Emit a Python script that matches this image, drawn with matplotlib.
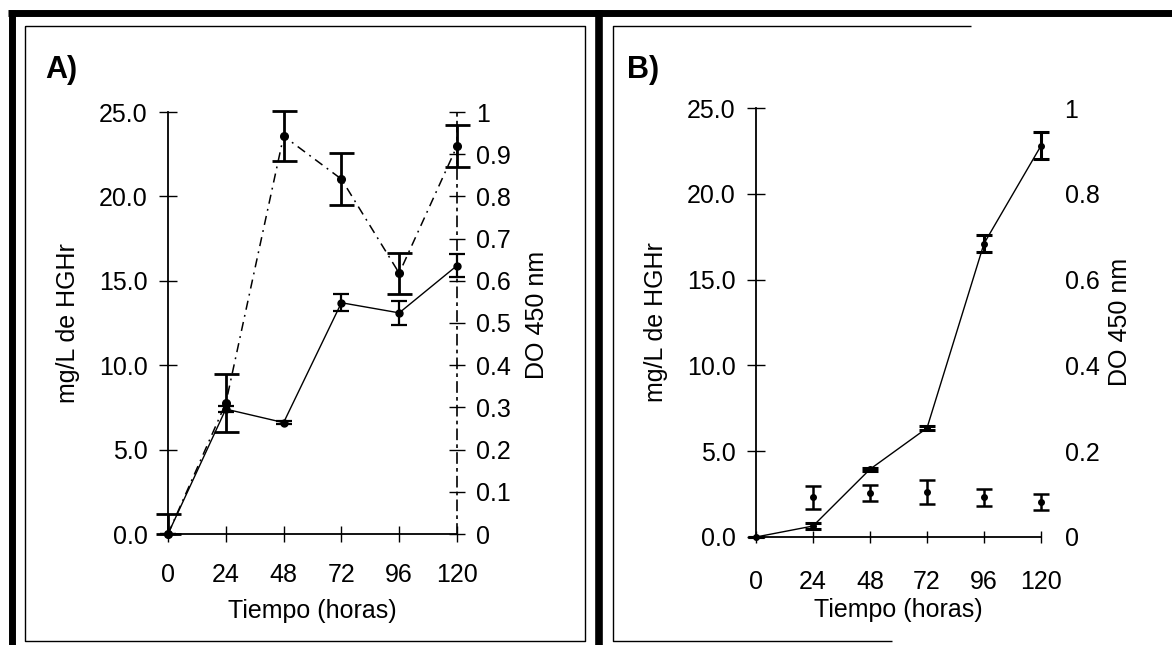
import matplotlib
matplotlib.use("Agg")
import matplotlib.pyplot as plt
from matplotlib.lines import Line2D

plt.rcParams['font.family'] = ['Liberation Sans', 'DejaVu Sans']

# Tiempo (horas)
horas = [0, 24, 48, 72, 96, 120]
x_ticks = [0, 24, 48, 72, 96, 120]

# Panel A
a_mg = [0.0, 7.4, 6.6, 13.7, 13.1, 15.9]          # mg/L de HGHr (linea continua)
a_mg_err = [0.0, 0.2, 0.1, 0.5, 0.7, 0.7]
a_do = [0.0, 0.31, 0.943, 0.841, 0.618, 0.919]    # DO 450 nm (linea punto-raya)
a_do_err = [0.047, 0.068, 0.06, 0.062, 0.049, 0.05]

# Panel B
b_mg = [0.0, 0.64, 3.95, 6.35, 17.1, 22.8]
b_mg_err = [0.0, 0.15, 0.1, 0.1, 0.47, 0.8]
b_do_horas = [24, 48, 72, 96, 120]
b_do = [0.093, 0.102, 0.105, 0.093, 0.082]
b_do_err = [0.027, 0.019, 0.029, 0.02, 0.019]

left_ticks = [0, 5, 10, 15, 20, 25]
a_right_ticks = [0, 0.1, 0.2, 0.3, 0.4, 0.5, 0.6, 0.7, 0.8, 0.9, 1]
b_right_ticks = [0, 0.2, 0.4, 0.6, 0.8, 1]

W, H = 1172, 645
fig = plt.figure(figsize=(W / 100, H / 100), dpi=100)


def fx(px):
    return px / W


def fy(py):
    return 1 - py / H


def fig_line(xs, ys, lw):
    fig.add_artist(Line2D([fx(v) for v in xs], [fy(v) for v in ys],
                          transform=fig.transFigure, color='k', lw=lw,
                          solid_capstyle='butt'))


def clipped_err(vals, errs):
    # error bars do not go below zero
    return [[min(v, e) for v, e in zip(vals, errs)], errs]


# scanned page frames
fig_line([8, W], [13, 13], 5)
fig_line([11.5, 11.5], [10, H], 5)
fig_line([599, 599], [10, H], 5.5)
fig_line([25, 585, 585, 25, 25], [26, 26, 641, 641, 26], 1.0)
fig_line([971, 613, 613, 892], [26, 26, 641, 641], 1.0)

FS = 18
dashdot = (0, (6, 3.5, 1.2, 3.5))


def style_axes(ax, ax2, right_ticks, xpad):
    ax.set_xlim(0, 120)
    ax.set_ylim(0, 25)
    ax2.set_ylim(0, 1)
    ax.set_xticks(x_ticks)
    ax.set_yticks(left_ticks)
    ax.set_yticklabels(['%.1f' % v for v in left_ticks])
    ax2.set_yticks(right_ticks)
    ax2.set_yticklabels(['%g' % v for v in right_ticks])
    ax.tick_params(axis='y', direction='inout', length=13, width=1.0,
                   labelsize=FS, pad=8)
    ax.tick_params(axis='x', direction='inout', length=12, width=1.0,
                   labelsize=FS, pad=xpad)
    ax2.tick_params(axis='y', direction='inout', length=11, width=1.0,
                    labelsize=FS, pad=8)
    for s in ['top', 'right']:
        ax.spines[s].set_visible(False)
    for s in ['top', 'left', 'bottom']:
        ax2.spines[s].set_visible(False)
    ax.spines['left'].set_linewidth(1.3)
    ax.spines['bottom'].set_linewidth(1.3)
    ax.set_xlabel('Tiempo (horas)', fontsize=FS)
    ax.set_ylabel('mg/L de HGHr', fontsize=FS)
    ax2.set_ylabel('DO 450 nm', fontsize=FS)
    ax.yaxis.label.set_va('center')
    ax2.yaxis.label.set_va('center')
    ax.xaxis.label.set_va('center')


# ---------- Panel A ----------
axA = fig.add_axes([fx(168), fy(534), fx(457) - fx(168), fy(112) - fy(534)])
axA2 = axA.twinx()
style_axes(axA, axA2, a_right_ticks, 15)
axA2.spines['right'].set_linestyle(dashdot)
axA2.spines['right'].set_linewidth(1.2)

axA.errorbar(horas, a_mg, yerr=clipped_err(a_mg, a_mg_err), color='k', lw=1.0,
             marker='o', ms=5, elinewidth=1.6, capsize=6, capthick=1.6,
             clip_on=False, zorder=3)
axA2.errorbar(horas, a_do, yerr=clipped_err(a_do, a_do_err), color='k', lw=1.1,
              ls=dashdot, marker='o', ms=5.5, elinewidth=2.0, capsize=9,
              capthick=2.0, clip_on=False, zorder=3)

axA.yaxis.set_label_coords((68 - 168) / 289, 0.5)
axA2.yaxis.set_label_coords((537 - 168) / 289, (534 - 315) / 422)
axA.xaxis.set_label_coords(0.5, (534 - 611) / 422)
fig.text(fx(45), fy(78), 'A)', fontsize=22, fontweight='bold', va='baseline')

# ---------- Panel B ----------
axB = fig.add_axes([fx(756), fy(537), fx(1041) - fx(756), fy(108) - fy(537)])
axB2 = axB.twinx()
style_axes(axB, axB2, b_right_ticks, 19)
axB2.spines['right'].set_visible(False)
axB2.tick_params(axis='y', length=0, pad=17)
axB.tick_params(axis='x', length=9)

axB.errorbar(horas, b_mg, yerr=clipped_err(b_mg, b_mg_err), color='k', lw=1.0,
             marker='o', ms=4, elinewidth=2.2, capsize=6, capthick=2.2,
             clip_on=False, zorder=3)
axB2.errorbar(b_do_horas, b_do, yerr=b_do_err, color='k', ls='none',
              marker='o', ms=4, elinewidth=1.8, capsize=6, capthick=1.8,
              clip_on=False, zorder=3)

axB.yaxis.set_label_coords((656 - 756) / 285, 0.5)
axB2.yaxis.set_label_coords((1120 - 756) / 285, (537 - 322) / 429)
axB.xaxis.set_label_coords(0.5, (537 - 610) / 429)
fig.text(fx(627), fy(78), 'B)', fontsize=22, fontweight='bold', va='baseline')

fig.savefig('out.png', dpi=100)
